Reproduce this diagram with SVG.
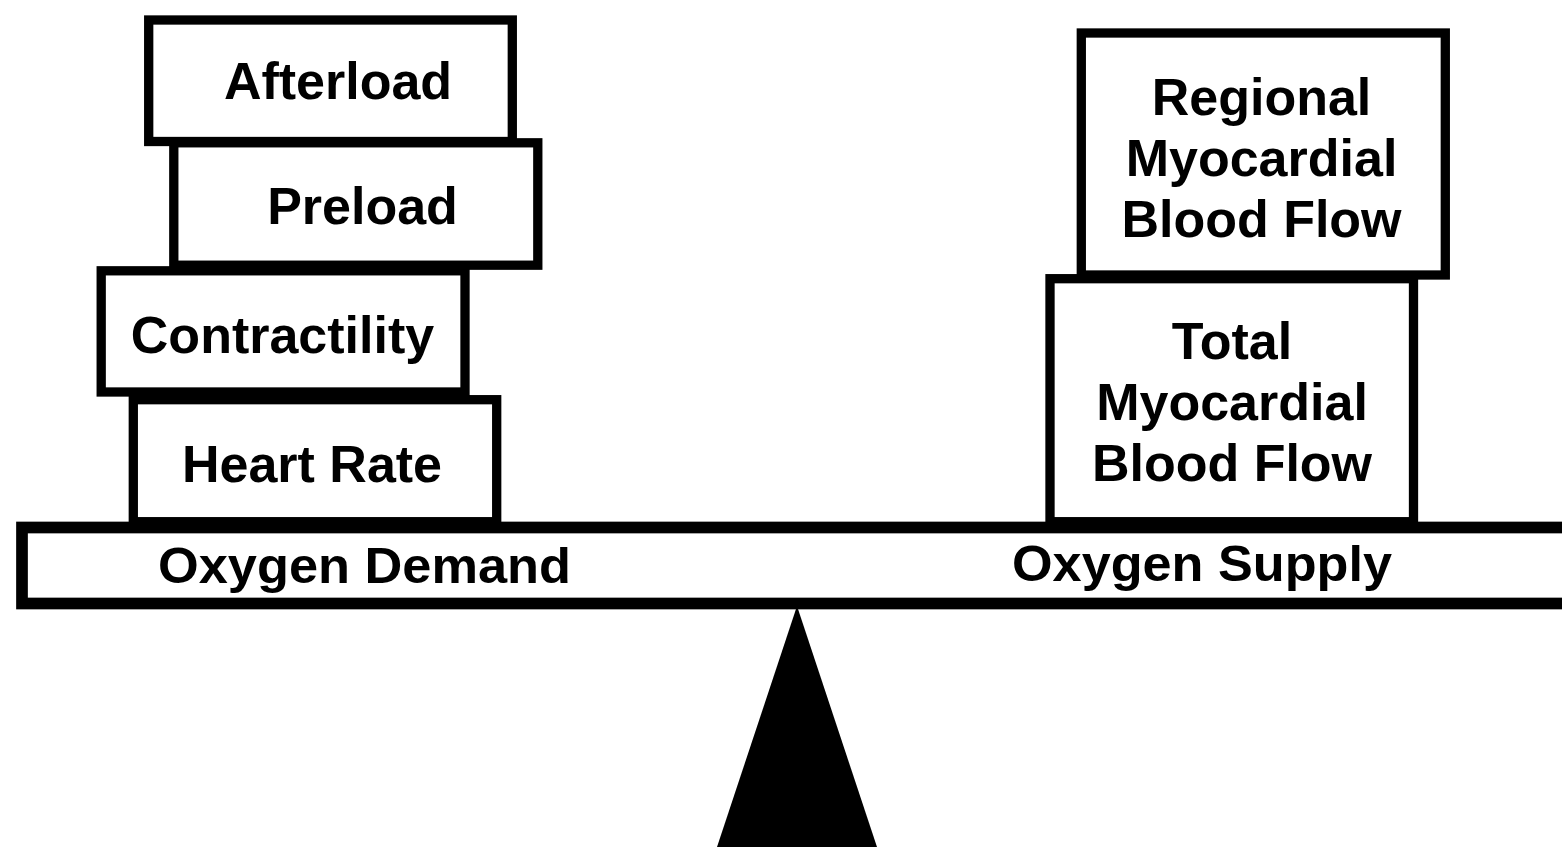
<svg xmlns="http://www.w3.org/2000/svg" width="1562" height="847" viewBox="0 0 1562 847">
<style>
.box{fill:#fff;stroke:#000;stroke-width:9.3}
.beam{fill:#fff;stroke:#000;stroke-width:11.7}
.lbl{font-family:"Liberation Sans",Arial,sans-serif;font-weight:bold;font-size:52px;fill:#000;text-anchor:middle}
.blbl{font-family:"Liberation Sans",Arial,sans-serif;font-weight:bold;font-size:50px;fill:#000}
</style>
<rect width="1562" height="847" fill="#fff"/>
<g id="fulcrum">
<polygon points="797,606 877,847 717,847" fill="#000"/>
</g>
<g id="beam">
<rect class="beam" x="22" y="527.5" width="1580" height="76"/>
<text class="blbl" x="158" y="583" textLength="413" lengthAdjust="spacingAndGlyphs">Oxygen Demand</text>
<text class="blbl" x="1012" y="581" textLength="380" lengthAdjust="spacingAndGlyphs">Oxygen Supply</text>
</g>
<g id="heart-rate">
<rect class="box" x="133.3" y="399.7" width="363.4" height="122"/>
<text class="lbl" x="312" y="482">Heart Rate</text>
</g>
<g id="contractility">
<rect class="box" x="101.2" y="270.8" width="363.8" height="121.2"/>
<text class="lbl" x="282.5" y="353">Contractility</text>
</g>
<g id="preload">
<rect class="box" x="173.8" y="142.8" width="364" height="122.4"/>
<text class="lbl" x="362.5" y="224">Preload</text>
</g>
<g id="afterload">
<rect class="box" x="148.7" y="20" width="363.6" height="121.5"/>
<text class="lbl" x="338" y="99">Afterload</text>
</g>
<g id="total-flow">
<rect class="box" x="1050" y="278.7" width="363.5" height="243"/>
<text class="lbl" x="1232" y="359">Total</text>
<text class="lbl" x="1232" y="420">Myocardial</text>
<text class="lbl" x="1232" y="481">Blood Flow</text>
</g>
<g id="regional-flow">
<rect class="box" x="1081.3" y="33" width="364" height="242"/>
<text class="lbl" x="1261.5" y="115">Regional</text>
<text class="lbl" x="1261.5" y="176">Myocardial</text>
<text class="lbl" x="1261.5" y="237">Blood Flow</text>
</g>
<g id="connectors"></g>
</svg>
